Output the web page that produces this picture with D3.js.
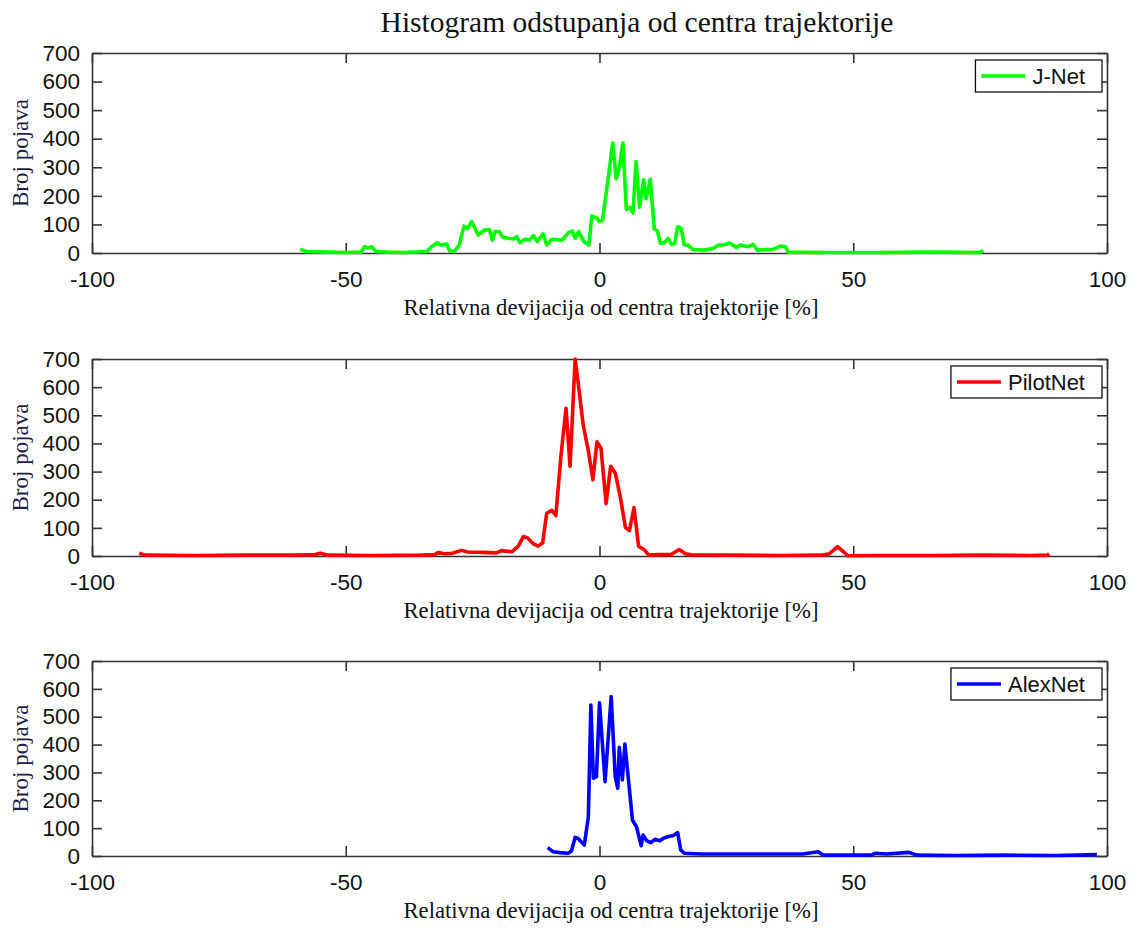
<!DOCTYPE html>
<html>
<head>
<meta charset="utf-8">
<script src="https://cdn.jsdelivr.net/npm/d3@7"></script>
<style>
body { margin: 0; background: #fff; }
.tick text { font-family: "Liberation Sans", Arial, sans-serif; font-size: 22.5px; fill: #111; }
.serif { font-family: "Liberation Serif", "Times New Roman", serif; }
</style>
</head>
<body>
<svg id="chart" width="1132" height="928"></svg>
<script>
var xTicks = [-100, -50, 0, 50, 100];
var yTicks = [0, 100, 200, 300, 400, 500, 600, 700];

//J-Net
var jnetX = [-59.0,-57.7,-54,-50,-47,-46.3,-45.7,-44.8,-44.1,-42,-38,-34.0,-33.1,-32.0,-31.3,-30.1,-29.5,-28.5,-27.6,-26.7,-26.0,-25.2,-23.9,-22.7,-21.7,-21.1,-20.6,-19.8,-19.0,-17.0,-16.3,-15.7,-14.7,-13.8,-13.0,-12.3,-11.1,-10.4,-9.4,-7.4,-6.1,-5.4,-4.8,-4.1,-3.1,-2.1,-1.5,-0.5,0.0,0.6,1.7,2.6,3.3,3.9,4.6,5.3,6.0,6.6,7.2,7.9,8.7,9.2,10.0,10.8,11.4,12.0,12.8,13.5,14.2,14.8,15.4,16.1,16.7,17.5,18.4,20.5,22.4,23.4,24.4,25.7,27.0,27.7,29.3,30.3,31.1,34.2,35.6,36.6,37.2,45,55,65,75.0,75.6];
var jnetY = [13,5,3,2,3,22,17,22,5,3,2,5,22,36,28,31,7,7,30,94,86,110,63,80,82,45,75,75,54,49,57,36,48,45,61,40,67,28,48,45,71,77,51,75,40,28,130,122,110,115,260,385,260,300,385,152,160,140,320,160,256,190,258,84,78,34,36,51,30,33,92,86,28,27,12,10,16,28,28,35,19,28,22,30,10,13,24,22,3,2,2,3,2,10];

//PilotNet
var pilotX = [-90.7,-89.5,-80,-70,-60,-56,-55,-53.5,-45,-35,-32.5,-31.8,-30.5,-29,-27.2,-26,-23,-20.3,-19.3,-17.3,-16.0,-15.0,-14.2,-13.0,-12.1,-11.2,-10.4,-9.4,-8.6,-7.6,-6.6,-5.8,-4.8,-4.2,-3.2,-2.2,-1.3,-0.5,0.3,1.3,2.2,3.1,4.1,5.1,5.9,6.8,7.7,8.9,9.7,11.7,14.1,15.7,16.9,18.1,25,35,43.7,45.3,46.9,48.1,48.9,55,65,75,85,88.2,88.6];
var pilotY = [10,3,2,3,3,5,10,3,2,3,5,12,8,10,20,14,13,11,19,15,35,69,65,43,35,47,152,162,144,355,525,319,700,615,464,374,271,406,382,186,319,295,210,102,90,172,35,21,3,5,5,23,8,4,3,2,3,8,33,15,1,2,2,3,2,3,8];

//AlexNet
var alexX = [-10.2,-9.1,-7.8,-6.1,-5.5,-4.8,-4.2,-3.0,-2.2,-1.7,-1.2,-0.6,0.0,1.1,2.3,3.1,3.6,3.9,4.5,5.0,6.5,7.3,8.2,8.6,9.3,10.1,10.9,11.9,12.6,13.6,14.6,15.4,16.0,16.7,20,30,40,43.1,44.1,50,53.6,54.3,56.6,61.0,62.5,70,80,90,98.0];
var alexY = [30,15,12,10,19,67,63,39,141,542,279,285,550,267,572,285,243,390,273,402,129,105,37,75,55,48,60,55,64,70,74,84,22,10,7,7,7,15,3,3,3,10,7,13,3,2,3,2,5];

var names = ["J-Net", "PilotNet", "AlexNet"];
var colors = ["#00ff00", "#ff0000", "#0000ff"];
var seriesX = [jnetX, pilotX, alexX];
var seriesY = [jnetY, pilotY, alexY];

var svg = d3.select("#chart");
var left = 92, right = 1107;
var panelTop = [53, 359, 661], panelBottom = [253, 556, 856];

svg.append("text")
	.attr("class", "serif")
	.attr("x", 637).attr("y", 32)
	.attr("text-anchor", "middle")
	.attr("font-size", "29.5px")
	.attr("fill", "#111")
	.text("Histogram odstupanja od centra trajektorije");

var x = d3.scaleLinear().domain([-100, 100]).range([left, right]);

for (let p = 0; p < 3; p++) {
	var y = d3.scaleLinear().domain([0, 700]).range([panelBottom[p], panelTop[p]]);
	var g = svg.append("g");
	var fmt = function(d) { return String(d); };

	// bottom + top (ticks inward)
	g.append("g").attr("transform", "translate(0," + panelBottom[p] + ")")
		.call(d3.axisBottom(x).tickValues(xTicks).tickFormat(fmt).tickSizeInner(-10).tickSizeOuter(0).tickPadding(18));
	g.append("g").attr("transform", "translate(0," + panelTop[p] + ")")
		.call(d3.axisTop(x).tickValues(xTicks).tickFormat("").tickSizeInner(-10).tickSizeOuter(0));
	// left + right
	g.append("g").attr("transform", "translate(" + left + ",0)")
		.call(d3.axisLeft(y).tickValues(yTicks).tickFormat(fmt).tickSizeInner(-10).tickSizeOuter(0).tickPadding(12));
	g.append("g").attr("transform", "translate(" + right + ",0)")
		.call(d3.axisRight(y).tickValues(yTicks).tickFormat("").tickSizeInner(-10).tickSizeOuter(0));

	g.selectAll(".domain").attr("stroke", "#333").attr("stroke-width", 1.6);
	g.selectAll(".tick line").attr("stroke", "#333").attr("stroke-width", 1.6);

	var pts = seriesX[p].map(function(v, i) { return [v, seriesY[p][i]]; });
	var line = d3.line()
		.x(function(d) { return x(d[0]); })
		.y(function(d) { return y(d[1]); });

	g.append("path")
		.datum(pts)
		.attr("fill", "none")
		.attr("stroke", colors[p])
		.attr("stroke-width", 3.6)
		.attr("stroke-linejoin", "round")
		.attr("d", line);

	// axis labels
	g.append("text")
		.attr("class", "serif")
		.attr("x", 611).attr("y", panelBottom[p] + 62)
		.attr("text-anchor", "middle")
		.attr("font-size", "22.7px")
		.attr("fill", "#111")
		.text("Relativna devijacija od centra trajektorije [%]");

	g.append("text")
		.attr("class", "serif")
		.attr("transform", "translate(28," + ((panelTop[p] + panelBottom[p]) / 2) + ") rotate(-90)")
		.attr("text-anchor", "middle")
		.attr("font-size", "23px")
		.attr("fill", "#1c1f4a")
		.text("Broj pojava");

	// legend
	var lg = g.append("g");
	var box = lg.append("rect").attr("fill", "#fff").attr("stroke", "#111").attr("stroke-width", 1.3);
	var lt = lg.append("text")
		.attr("font-family", "\"Liberation Sans\", Arial, sans-serif")
		.attr("font-size", "22px").attr("fill", "#111")
		.text(names[p]);
	var tw = lt.node().getComputedTextLength();
	var bw = tw + 74, bx = right - 5 - bw, by = panelTop[p] + 7;
	box.attr("x", bx).attr("y", by).attr("width", bw).attr("height", 32);
	lg.append("line")
		.attr("x1", bx + 6).attr("x2", bx + 50)
		.attr("y1", by + 16).attr("y2", by + 16)
		.attr("stroke", colors[p]).attr("stroke-width", 3.6);
	lt.attr("x", bx + 57).attr("y", by + 24);
}
</script>
</body>
</html>
